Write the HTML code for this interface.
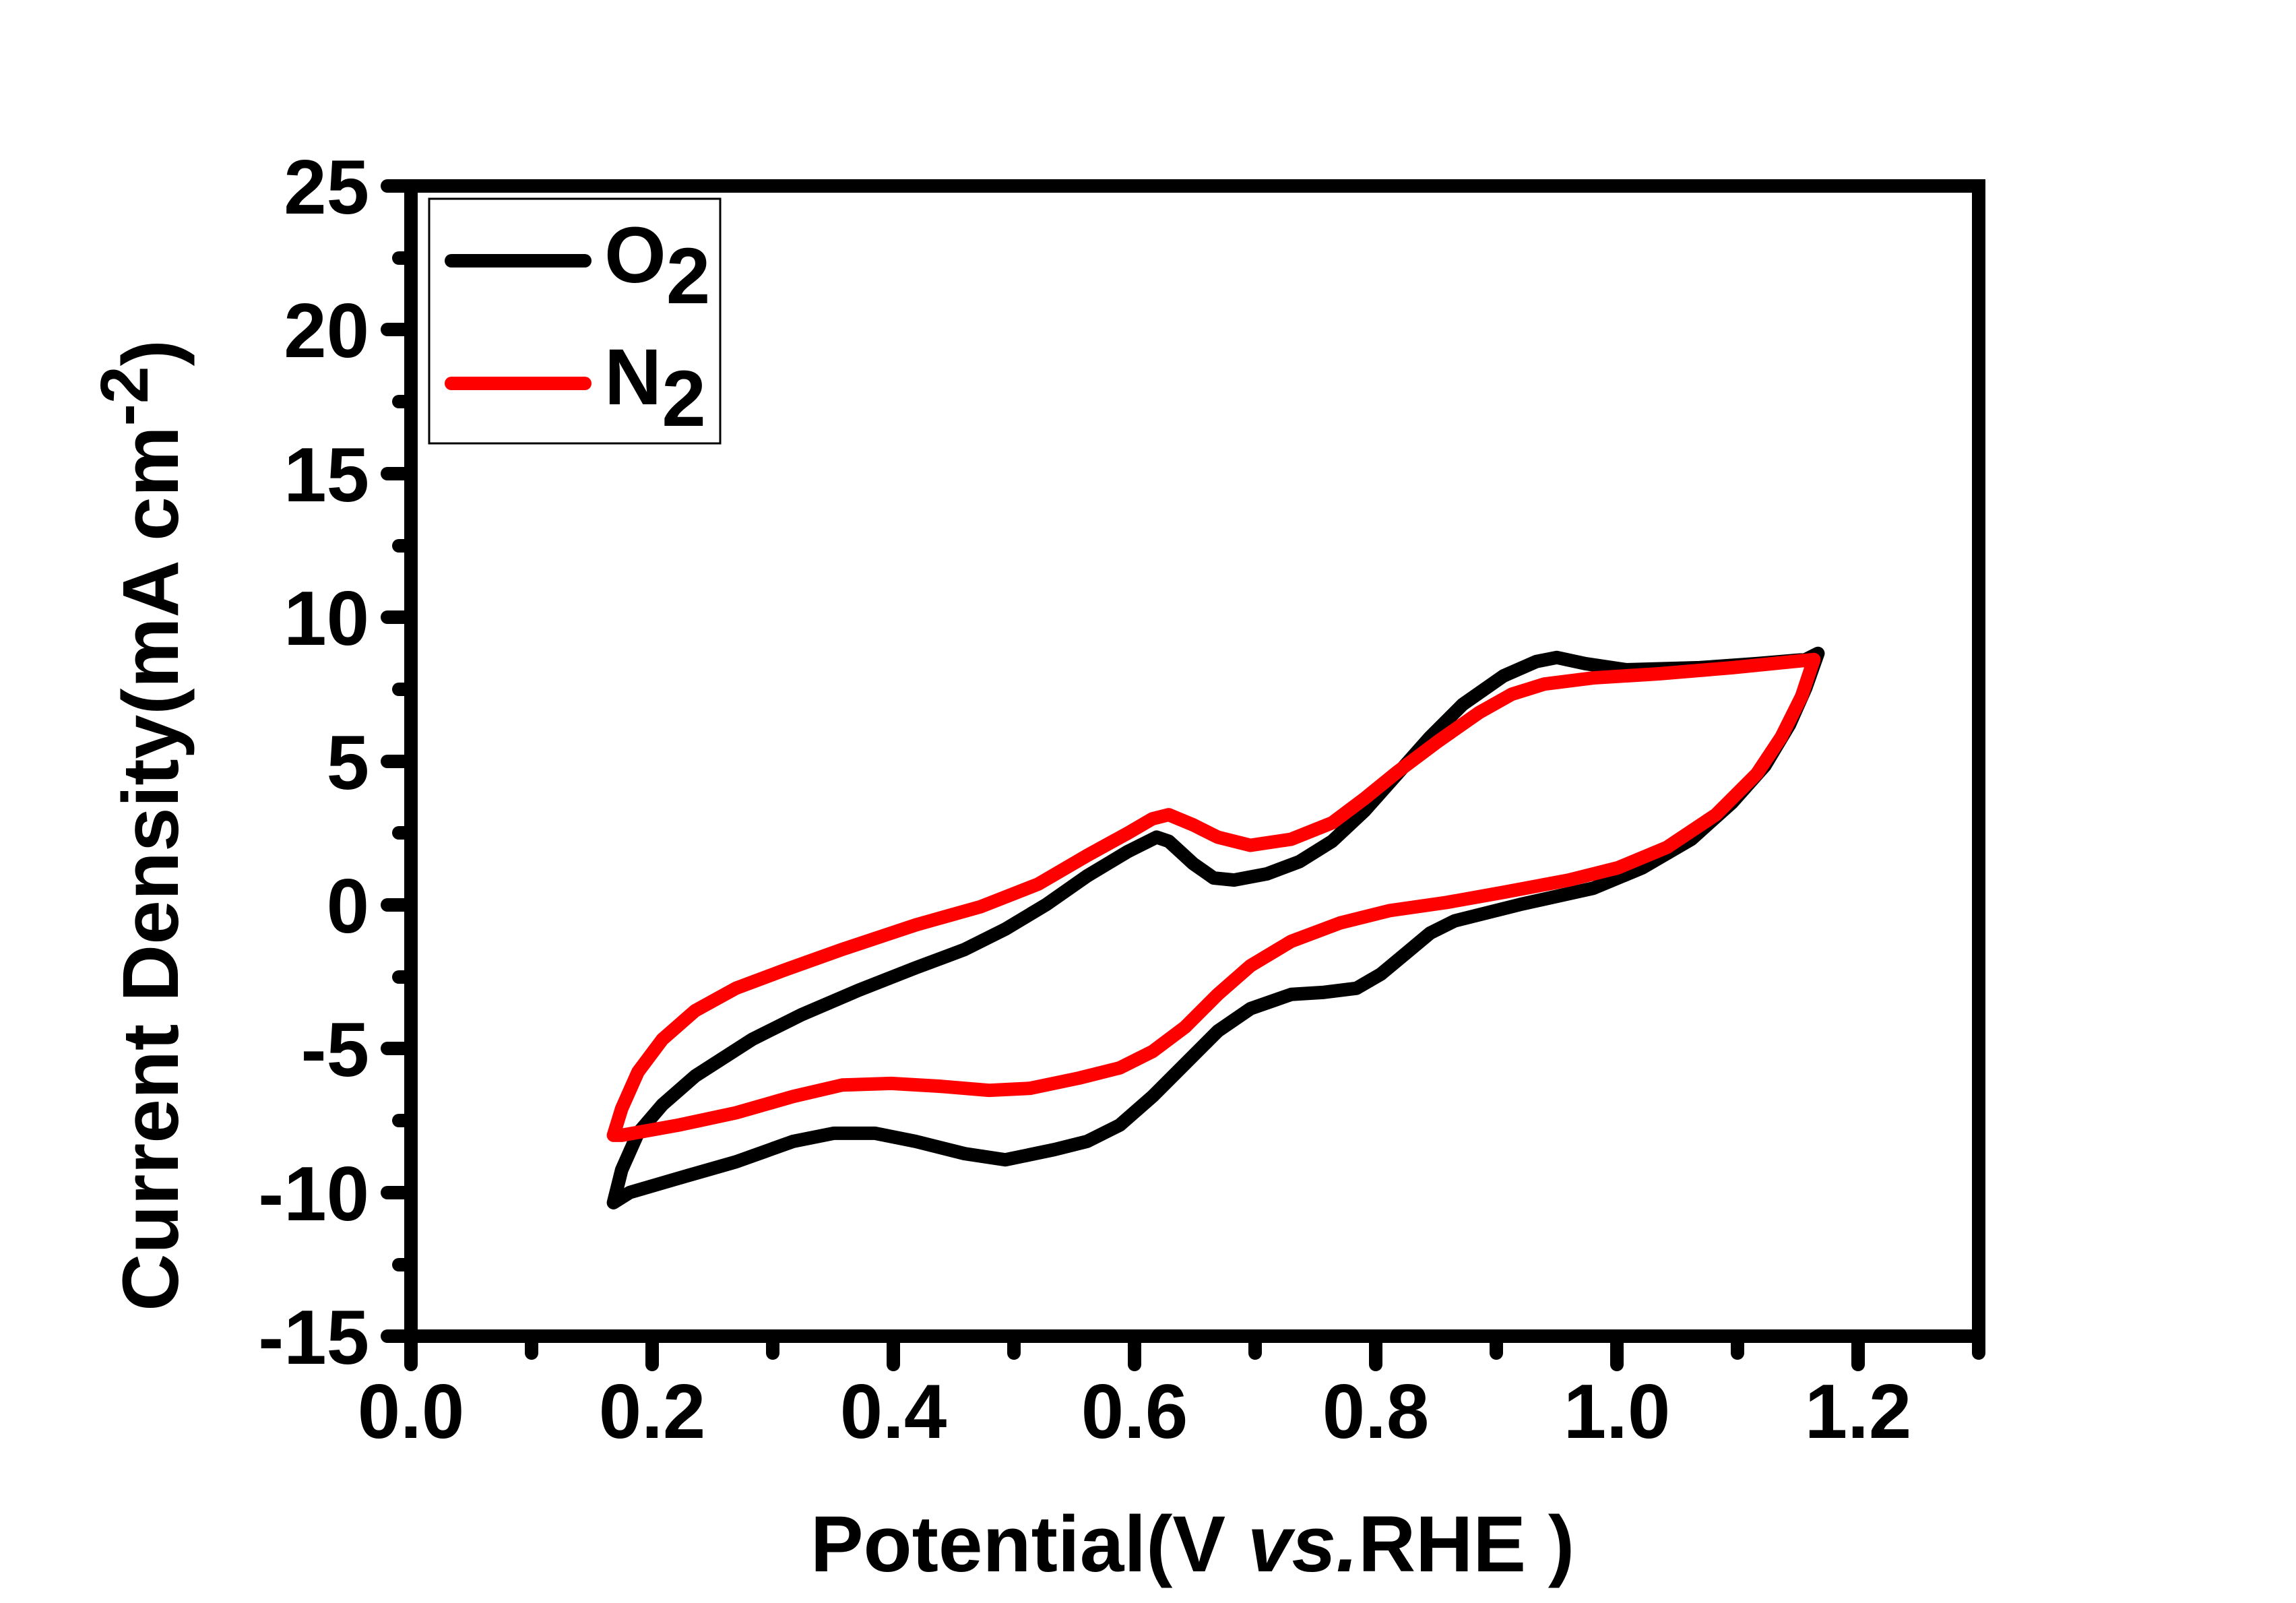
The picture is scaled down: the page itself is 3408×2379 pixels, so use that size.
<!DOCTYPE html>
<html><head><style>
body{margin:0;background:#fff}
svg{display:block}
text{font-family:"Liberation Sans",Arial,sans-serif;font-weight:bold;fill:#000}
</style></head><body>
<svg width="3408" height="2379" viewBox="0 0 3408 2379" xmlns="http://www.w3.org/2000/svg">
<rect width="3408" height="2379" fill="#fff"/>
<g stroke="#000" stroke-width="20" stroke-linecap="round">
<line x1="575" y1="276" x2="605" y2="276"/>
<line x1="575" y1="489" x2="605" y2="489"/>
<line x1="575" y1="703" x2="605" y2="703"/>
<line x1="575" y1="916" x2="605" y2="916"/>
<line x1="575" y1="1130" x2="605" y2="1130"/>
<line x1="575" y1="1343" x2="605" y2="1343"/>
<line x1="575" y1="1556" x2="605" y2="1556"/>
<line x1="575" y1="1770" x2="605" y2="1770"/>
<line x1="575" y1="1983" x2="605" y2="1983"/>
<line x1="592" y1="383" x2="605" y2="383"/>
<line x1="592" y1="596" x2="605" y2="596"/>
<line x1="592" y1="810" x2="605" y2="810"/>
<line x1="592" y1="1023" x2="605" y2="1023"/>
<line x1="592" y1="1236" x2="605" y2="1236"/>
<line x1="592" y1="1450" x2="605" y2="1450"/>
<line x1="592" y1="1663" x2="605" y2="1663"/>
<line x1="592" y1="1877" x2="605" y2="1877"/>
</g>
<g stroke="#000" stroke-width="20" stroke-linecap="round">
<line x1="610" y1="1990" x2="610" y2="2025"/>
<line x1="968" y1="1990" x2="968" y2="2025"/>
<line x1="1326" y1="1990" x2="1326" y2="2025"/>
<line x1="1684" y1="1990" x2="1684" y2="2025"/>
<line x1="2042" y1="1990" x2="2042" y2="2025"/>
<line x1="2400" y1="1990" x2="2400" y2="2025"/>
<line x1="2758" y1="1990" x2="2758" y2="2025"/>
<line x1="789" y1="1990" x2="789" y2="2008"/>
<line x1="1147" y1="1990" x2="1147" y2="2008"/>
<line x1="1505" y1="1990" x2="1505" y2="2008"/>
<line x1="1863" y1="1990" x2="1863" y2="2008"/>
<line x1="2221" y1="1990" x2="2221" y2="2008"/>
<line x1="2579" y1="1990" x2="2579" y2="2008"/>
<line x1="2937" y1="1990" x2="2937" y2="2008"/>
</g>
<rect x="610" y="276" width="2327" height="1707" fill="none" stroke="#000" stroke-width="20"/>
<g font-size="114" text-anchor="end">
<text x="548" y="317">25</text>
<text x="548" y="530">20</text>
<text x="548" y="744">15</text>
<text x="548" y="957">10</text>
<text x="548" y="1171">5</text>
<text x="548" y="1384">0</text>
<text x="548" y="1597">-5</text>
<text x="548" y="1811">-10</text>
<text x="548" y="2024">-15</text>
</g>
<g font-size="114" text-anchor="middle">
<text x="610" y="2134">0.0</text>
<text x="968" y="2134">0.2</text>
<text x="1326" y="2134">0.4</text>
<text x="1684" y="2134">0.6</text>
<text x="2042" y="2134">0.8</text>
<text x="2400" y="2134">1.0</text>
<text x="2758" y="2134">1.2</text>
</g>
<text x="1770" y="2332" font-size="118" text-anchor="middle">Potential(V <tspan font-style="italic">vs.</tspan>RHE )</text>
<text transform="translate(264,1225) rotate(-90)" font-size="118" text-anchor="middle">Current Density(mA cm<tspan dy="-45" font-size="100">-2</tspan><tspan dy="45">)</tspan></text>
<rect x="637" y="295" width="432" height="363" fill="none" stroke="#000" stroke-width="3"/>
<line x1="670" y1="387" x2="868" y2="387" stroke="#000" stroke-width="20" stroke-linecap="round"/>
<line x1="670" y1="569" x2="868" y2="569" stroke="#f00" stroke-width="20" stroke-linecap="round"/>
<text x="897" y="419" font-size="118">O<tspan dy="31">2</tspan></text>
<text x="897" y="600" font-size="118">N<tspan dy="32">2</tspan></text>
<g transform="translate(850,900) scale(1.2121,0.60606)" fill="none" stroke-linejoin="round" stroke-linecap="round">
<polyline vector-effect="non-scaling-stroke" stroke="#000" stroke-width="20" points="50,1460 60,1380 80,1290 110,1220 150,1150 220,1060 280,1000 350,940 420,885 480,840 530,790 580,730 630,660 680,600 715,565 730,575 760,630 785,665 810,670 850,655 890,625 930,575 970,500 1010,410 1050,320 1090,240 1140,170 1180,135 1205,125 1240,140 1290,155 1380,150 1450,140 1510,130 1525,115 1510,200 1490,290 1460,390 1420,480 1370,570 1310,640 1250,690 1160,730 1080,770 1050,800 1020,850 990,900 960,935 920,945 880,950 830,985 790,1040 750,1120 710,1200 670,1270 630,1310 590,1330 530,1355 480,1340 420,1310 370,1290 320,1290 270,1310 200,1360 130,1400 70,1435 50,1460"/>
<polyline vector-effect="non-scaling-stroke" stroke="#f00" stroke-width="20" points="50,1295 60,1230 80,1140 110,1060 150,990 200,935 260,890 330,840 420,780 500,735 570,680 630,610 680,555 710,520 730,510 760,535 790,565 830,585 880,570 930,530 970,470 1010,405 1060,330 1110,260 1150,215 1190,190 1250,175 1330,165 1420,150 1520,130 1505,220 1480,320 1450,410 1400,510 1340,590 1280,640 1220,670 1140,700 1070,725 1000,745 940,775 880,820 830,880 790,950 750,1030 710,1090 670,1130 620,1155 560,1180 510,1185 450,1175 390,1168 330,1172 270,1200 200,1240 130,1270 60,1295 50,1295"/>
</g>
</svg>
</body></html>
